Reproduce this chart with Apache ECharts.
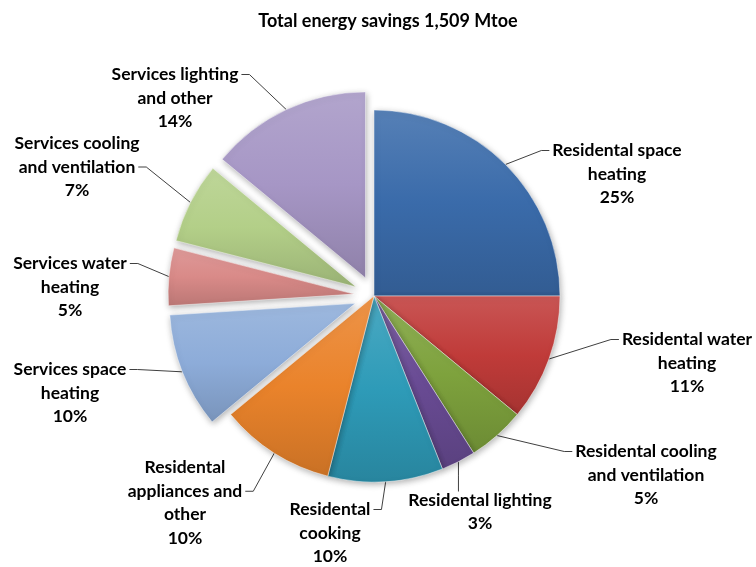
<!DOCTYPE html>
<html>
<head>
<meta charset="utf-8">
<script src="https://cdn.jsdelivr.net/npm/echarts@6/dist/echarts.min.js"></script>
<style>
html,body{margin:0;padding:0;background:#fff;}
#chart{width:756px;height:567px;}
</style>
</head>
<body>
<div id="chart"></div>
<script>
const categories = [
  "Residental space\nheating",
  "Residental water\nheating",
  "Residental cooling\nand ventilation",
  "Residental lighting",
  "Residental\ncooking",
  "Residental\nappliances and\nother",
  "Services space\nheating",
  "Services water\nheating",
  "Services cooling\nand ventilation",
  "Services lighting\nand other"
];
const shares = [25, 11, 5, 3, 10, 10, 10, 5, 7, 14];
const exploded = [false, false, false, false, false, false, true, true, true, true];
const colors = ["#3a6baa", "#c03b39", "#7ea23d", "#694b94", "#2e9bb8", "#ea832b", "#8dacd9", "#d98a88", "#b3cf88", "#a696c5"];
// label block centres and where each leader line meets its text (side, text line)
const labelSpots = [
  [617, 174], [687, 363], [646, 475], [480, 512], [330, 533],
  [185, 503], [70, 393], [70, 287], [77, 167], [175, 98]
];
const leaderAttach = [
  ["left", 0], ["left", 0], ["left", 0], ["top", 0], ["right", 0],
  ["right", 1], ["right", 0], ["right", 0], ["right", 1], ["right", 0]
];

const PIE_CENTER = [374, 296];
const PIE_R = 186;
const EXPLODE = 20;
const FONT_SIZE = 17.5;
const LINE_H = 23.5;

function shade(hex, f) {
  const n = parseInt(hex.slice(1), 16);
  let r = (n >> 16) & 255, g = (n >> 8) & 255, b = n & 255;
  const adj = c => f >= 0 ? Math.round(c + (255 - c) * f) : Math.round(c * (1 + f));
  return "rgb(" + adj(r) + "," + adj(g) + "," + adj(b) + ")";
}

const measureCtx = document.createElement("canvas").getContext("2d");
measureCtx.font = "bold " + FONT_SIZE + "px Lato";

const labelStyle = {
  position: "outside",
  formatter: "{b}\n{c}%",
  fontFamily: "Lato",
  fontWeight: "bold",
  fontSize: FONT_SIZE,
  lineHeight: LINE_H,
  color: "#000",
  align: "center"
};
const lineStyle = { color: "#404040", width: 1 };

const placeLabel = function (p) {
  const i = p.dataIndex;
  const s = labelSpots[i];
  const out = { x: s[0], y: s[1], align: "center", verticalAlign: "middle" };
  const pts = p.labelLinePoints;
  if (pts && pts.length) {
    const anchor = pts[0];
    const lines = (categories[i] + "\n" + shares[i] + "%").split("\n");
    const top = s[1] - lines.length * LINE_H / 2;
    const k = leaderAttach[i][1];
    const ly = top + LINE_H * (k + 0.5);
    const w = measureCtx.measureText(lines[k]).width;
    const side = leaderAttach[i][0];
    let end, bend;
    if (side === "left") {
      end = [s[0] - w / 2 - 3, ly];
      bend = [end[0] - 8, ly];
    } else if (side === "right") {
      end = [s[0] + w / 2 + 3, ly];
      bend = [end[0] + 8, ly];
    } else {
      end = [anchor[0], top + 3];
      bend = [anchor[0], (anchor[1] + top) / 2];
    }
    out.labelLinePoints = [[anchor[0], anchor[1]], bend, end];
  }
  return out;
};

const mainData = categories.map((name, i) => ({
  name: name,
  value: shares[i],
  selected: exploded[i],
  label: { show: !exploded[i] },
  labelLine: { show: !exploded[i] },
  itemStyle: {
    color: {
      type: "linear", x: 0, y: 0, x2: 0, y2: 1,
      colorStops: [
        { offset: 0, color: shade(colors[i], 0.14) },
        { offset: 0.5, color: colors[i] },
        { offset: 1, color: shade(colors[i], -0.14) }
      ]
    }
  }
}));

const guideData = categories.map((name, i) => ({
  name: name,
  value: shares[i],
  label: { show: exploded[i] },
  labelLine: { show: exploded[i] }
}));

const chart = echarts.init(document.getElementById("chart"));
chart.setOption({
  animation: false,
  backgroundColor: "#ffffff",
  title: {
    text: "Total energy savings 1,509 Mtoe",
    left: 383,
    top: 7,
    textAlign: "center",
    textStyle: { fontFamily: "Lato", fontWeight: "bold", fontSize: 18, color: "#000" }
  },
  series: [{
    type: "pie",
    center: PIE_CENTER,
    radius: [0, PIE_R],
    startAngle: 90,
    clockwise: true,
    selectedMode: "multiple",
    selectedOffset: EXPLODE,
    avoidLabelOverlap: false,
    data: mainData,
    itemStyle: {
      borderColor: "rgba(255,255,255,0.45)",
      borderWidth: 1,
      shadowBlur: 6,
      shadowColor: "rgba(0,0,0,0.3)",
      shadowOffsetX: 1,
      shadowOffsetY: 2
    },
    label: labelStyle,
    labelLine: { show: true, length: 15, length2: 10, lineStyle: lineStyle },
    labelLayout: placeLabel,
    emphasis: { disabled: true }
  }, {
    type: "pie",
    silent: true,
    center: PIE_CENTER,
    radius: [0, PIE_R + EXPLODE],
    startAngle: 90,
    clockwise: true,
    selectedMode: false,
    avoidLabelOverlap: false,
    data: guideData,
    itemStyle: { color: "rgba(0,0,0,0)", borderWidth: 0 },
    label: labelStyle,
    labelLine: { show: true, length: 15, length2: 10, lineStyle: lineStyle },
    labelLayout: placeLabel,
    emphasis: { disabled: true }
  }]
});
</script>
</body>
</html>
